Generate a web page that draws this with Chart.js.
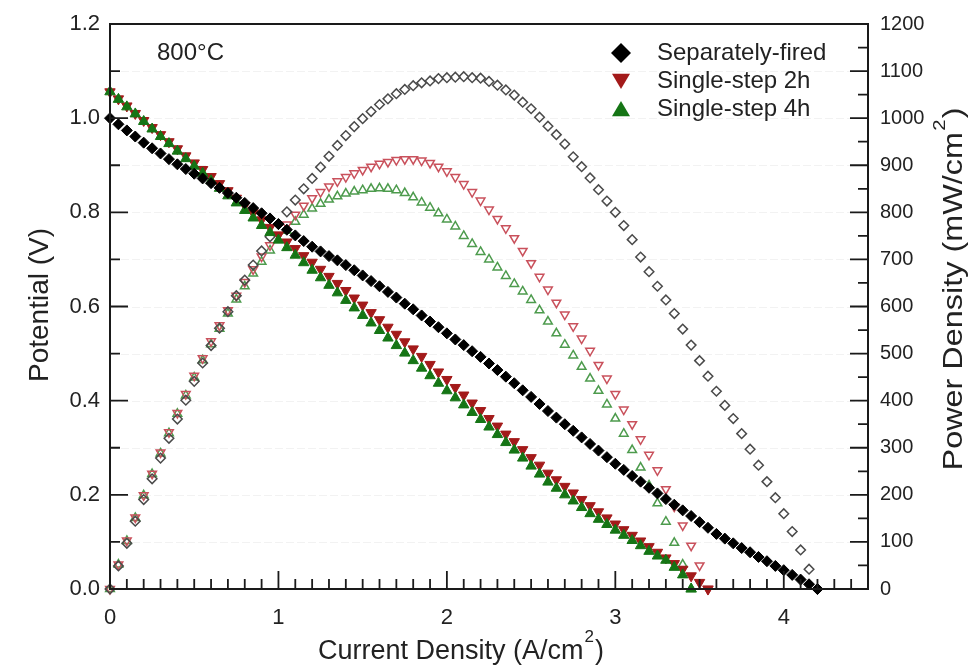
<!DOCTYPE html>
<html>
<head>
<meta charset="utf-8">
<title>800°C I-V and power density</title>
<script src="https://cdn.jsdelivr.net/npm/chart.js@4.4.1/dist/chart.umd.min.js"></script>
<style>
  html, body { margin: 0; padding: 0; background: #fff; }
  #wrap { width: 977px; height: 669px; position: relative; }
</style>
</head>
<body>
<div id="wrap"><canvas id="ivChart"></canvas></div>
<script>
// current density (A/cm2), each series uses as many points as it has values
const current = [
  0, 0.05, 0.1, 0.15, 0.2, 0.25, 0.3, 0.35, 0.4, 0.45,
  0.5, 0.55, 0.6, 0.65, 0.7, 0.75, 0.8, 0.85, 0.9, 0.95,
  1, 1.05, 1.1, 1.15, 1.2, 1.25, 1.3, 1.35, 1.4, 1.45,
  1.5, 1.55, 1.6, 1.65, 1.7, 1.75, 1.8, 1.85, 1.9, 1.95,
  2, 2.05, 2.1, 2.15, 2.2, 2.25, 2.3, 2.35, 2.4, 2.45,
  2.5, 2.55, 2.6, 2.65, 2.7, 2.75, 2.8, 2.85, 2.9, 2.95,
  3, 3.05, 3.1, 3.15, 3.2, 3.25, 3.3, 3.35, 3.4, 3.45,
  3.5, 3.55, 3.6, 3.65, 3.7, 3.75, 3.8, 3.85, 3.9, 3.95,
  4, 4.05, 4.1, 4.15, 4.2
];

// potential (V)
const vSeparate = [
  1.000, 0.987, 0.974, 0.961, 0.948, 0.936, 0.925, 0.913, 0.902, 0.892,
  0.882, 0.872, 0.862, 0.852, 0.841, 0.831, 0.820, 0.809, 0.798, 0.787,
  0.775, 0.763, 0.751, 0.739, 0.727, 0.717, 0.707, 0.698, 0.688, 0.677,
  0.666, 0.654, 0.643, 0.631, 0.619, 0.606, 0.594, 0.581, 0.568, 0.556,
  0.543, 0.530, 0.518, 0.505, 0.493, 0.479, 0.465, 0.451, 0.437, 0.422,
  0.408, 0.393, 0.378, 0.364, 0.350, 0.336, 0.322, 0.308, 0.294, 0.280,
  0.266, 0.253, 0.240, 0.228, 0.215, 0.203, 0.191, 0.179, 0.167, 0.155,
  0.142, 0.130, 0.117, 0.107, 0.097, 0.087, 0.078, 0.068, 0.059, 0.049,
  0.040, 0.030, 0.020, 0.010, 0.000
];
const vStep2h = [
  1.056, 1.041, 1.026, 1.010, 0.995, 0.980, 0.965, 0.950, 0.935, 0.920,
  0.905, 0.891, 0.876, 0.861, 0.846, 0.830, 0.815, 0.799, 0.784, 0.768,
  0.752, 0.737, 0.723, 0.708, 0.694, 0.679, 0.664, 0.649, 0.634, 0.618,
  0.603, 0.587, 0.572, 0.556, 0.541, 0.525, 0.510, 0.494, 0.477, 0.461,
  0.445, 0.428, 0.412, 0.395, 0.379, 0.362, 0.346, 0.329, 0.313, 0.296,
  0.279, 0.263, 0.246, 0.232, 0.218, 0.204, 0.190, 0.177, 0.164, 0.151,
  0.138, 0.126, 0.114, 0.102, 0.090, 0.078, 0.066, 0.054, 0.042, 0.028,
  0.014, 0.000
];
const vStep4h = [
  1.056, 1.040, 1.024, 1.009, 0.993, 0.977, 0.961, 0.946, 0.930, 0.914,
  0.898, 0.883, 0.867, 0.851, 0.835, 0.820, 0.804, 0.788, 0.772, 0.757,
  0.741, 0.725, 0.709, 0.693, 0.677, 0.661, 0.645, 0.629, 0.613, 0.597,
  0.581, 0.565, 0.549, 0.533, 0.517, 0.501, 0.485, 0.469, 0.453, 0.437,
  0.421, 0.406, 0.391, 0.375, 0.360, 0.344, 0.328, 0.311, 0.295, 0.278,
  0.261, 0.244, 0.227, 0.214, 0.200, 0.187, 0.173, 0.160, 0.148, 0.137,
  0.125, 0.114, 0.103, 0.092, 0.080, 0.070, 0.061, 0.046, 0.030, 0.000
];

// power density (mW/cm2)
const pSeparate = [
  0, 49, 97, 144, 190, 234, 278, 320, 361, 401,
  441, 480, 517, 554, 589, 623, 656, 688, 718, 748,
  775, 801, 826, 850, 872, 896, 919, 942, 963, 982,
  999, 1014, 1029, 1041, 1052, 1061, 1069, 1075, 1079, 1084,
  1086, 1087, 1088, 1086, 1085, 1078, 1070, 1060, 1049, 1034,
  1020, 1002, 983, 965, 945, 918, 897, 873, 848, 824,
  800, 772, 742, 705, 674, 643, 614, 585, 552, 518,
  485, 452, 420, 390, 362, 330, 297, 263, 228, 194,
  160, 122, 83, 42, 0
];
const pStep2h = [
  0, 52, 103, 152, 199, 245, 290, 333, 374, 414,
  453, 490, 526, 560, 592, 623, 652, 679, 706, 730,
  752, 774, 795, 814, 830, 843, 855, 866, 875, 883,
  890, 897, 903, 907, 911, 913, 913, 910, 905, 897,
  887, 875, 860, 843, 825, 806, 786, 766, 745, 718,
  692, 663, 636, 608, 583, 558, 532, 506, 476, 447,
  414, 381, 350, 318, 285, 252, 212, 175, 135, 92,
  50, 0
];
const pStep4h = [
  0, 52, 102, 151, 199, 244, 288, 331, 372, 411,
  449, 486, 520, 553, 585, 615, 643, 670, 695, 719,
  741, 761, 780, 795, 808, 818, 827, 834, 840, 844,
  847, 850, 851, 850, 847, 841, 832, 821, 810, 798,
  785, 770, 750, 733, 716, 700, 683, 665, 648, 632,
  614, 592, 568, 543, 519, 496, 472, 447, 421, 392,
  362, 330, 295, 258, 220, 182, 143, 98, 52, 0
];

const seriesNames = ['Separately-fired', 'Single-step 2h', 'Single-step 4h'];
const xTicks = [0, 1, 2, 3, 4];
const yTicks = [0, 0.2, 0.4, 0.6, 0.8, 1.0, 1.2];
const y2Ticks = [0, 100, 200, 300, 400, 500, 600, 700, 800, 900, 1000, 1100, 1200];

const FONT = "'Liberation Sans', Arial, Helvetica, sans-serif";
Chart.defaults.font.family = FONT;
Chart.defaults.color = '#222';

const toPoints = (ys) => ys.map((y, i) => ({ x: current[i], y: y }));

function marker(ctx, style, x, y, r, fill) {
    ctx.beginPath();
    if (style === 'diamond') {
        ctx.moveTo(x, y - r); ctx.lineTo(x + r, y); ctx.lineTo(x, y + r); ctx.lineTo(x - r, y);
    } else if (style === 'down') {
        ctx.moveTo(x - r, y - r * 0.8); ctx.lineTo(x + r, y - r * 0.8); ctx.lineTo(x, y + r * 0.9);
    } else {
        ctx.moveTo(x - r, y + r * 0.8); ctx.lineTo(x + r, y + r * 0.8); ctx.lineTo(x, y - r * 0.9);
    }
    ctx.closePath();
    ctx.fillStyle = fill;
    ctx.fill();
}

// text with a raised "2", centred on (cx, cy); stretch widens it along the reading direction
function supTitle(ctx, base, sup, tail, cx, cy, size, stretch) {
    const k = stretch || 1;
    ctx.save();
    ctx.translate(cx, cy);
    ctx.scale(k, 1);
    ctx.font = size + 'px ' + FONT;
    const w1 = ctx.measureText(base).width;
    const w3 = ctx.measureText(tail).width;
    ctx.font = Math.round(size * 0.62) + 'px ' + FONT;
    const w2 = ctx.measureText(sup).width + 2;
    const x = -(w1 + w2 + w3) / 2;
    ctx.textAlign = 'left';
    ctx.textBaseline = 'middle';
    ctx.font = size + 'px ' + FONT;
    ctx.fillText(base, x, 0);
    ctx.font = Math.round(size * 0.62) + 'px ' + FONT;
    ctx.fillText(sup, x + w1 + 1, -size * 0.55);
    ctx.font = size + 'px ' + FONT;
    ctx.fillText(tail, x + w1 + w2, 0);
    ctx.restore();
}

const frameAndTicks = {
    id: 'frameAndTicks',
    beforeDatasetsDraw(chart) {
        const { ctx, chartArea: a, scales } = chart;
        ctx.save();
        ctx.strokeStyle = 'rgba(0,0,0,0.05)';
        ctx.lineWidth = 1;
        ctx.setLineDash([8, 3]);
        for (let v = 100; v < 1200; v += 100) {
            const py = Math.round(scales.y2.getPixelForValue(v)) + 0.5;
            ctx.beginPath(); ctx.moveTo(a.left, py); ctx.lineTo(a.right, py); ctx.stroke();
        }
        ctx.restore();
    },
    afterDatasetsDraw(chart) {
        const { ctx, chartArea: a, scales } = chart;
        const { x, y, y2 } = scales;
        ctx.save();
        ctx.strokeStyle = '#1a1a1a';
        ctx.lineWidth = 2;
        ctx.strokeRect(a.left, a.top, a.right - a.left, a.bottom - a.top);

        // inward ticks: bottom (major 1, minor 0.1)
        ctx.lineWidth = 1.8;
        ctx.beginPath();
        for (let i = 1; i < 45; i++) {
            const px = x.getPixelForValue(i / 10);
            const len = i % 10 === 0 ? 18 : 10;
            ctx.moveTo(px, a.bottom); ctx.lineTo(px, a.bottom - len);
        }
        // left (major 0.2, minor 0.1)
        for (let i = 1; i < 12; i++) {
            const py = y.getPixelForValue(i / 10);
            const len = i % 2 === 0 ? 18 : 10;
            ctx.moveTo(a.left, py); ctx.lineTo(a.left + len, py);
        }
        // right (major 100, minor 50)
        for (let i = 1; i < 24; i++) {
            const py = y2.getPixelForValue(i * 50);
            const len = i % 2 === 0 ? 18 : 10;
            ctx.moveTo(a.right, py); ctx.lineTo(a.right - len, py);
        }
        ctx.stroke();

        // axis titles
        ctx.fillStyle = '#222';
        supTitle(ctx, 'Current Density (A/cm', '2', ')', 461, 652, 27, 1);
        ctx.save();
        ctx.translate(40, 305);
        ctx.rotate(-Math.PI / 2);
        ctx.font = '28px ' + FONT;
        ctx.textAlign = 'center';
        ctx.textBaseline = 'middle';
        ctx.fillText('Potential (V)', 0, 0);
        ctx.restore();
        ctx.save();
        ctx.translate(955, 289);
        ctx.rotate(-Math.PI / 2);
        supTitle(ctx, 'Power Density (mW/cm', '2', ')', 0, 0, 27, 1.2);
        ctx.restore();

        // temperature label and legend
        ctx.font = '24px ' + FONT;
        ctx.textAlign = 'left';
        ctx.textBaseline = 'middle';
        ctx.fillText('800°C', 157, 53);
        const styles = [['diamond', '#000000'], ['down', '#a31a1a'], ['up', '#157515']];
        seriesNames.forEach((name, i) => {
            const ly = 53 + i * 28;
            marker(ctx, styles[i][0], 621, ly, styles[i][0] === 'diamond' ? 10 : 9, styles[i][1]);
            ctx.fillStyle = '#222';
            ctx.fillText(name, 657, ly);
        });
        ctx.restore();
    }
};

const ivStyle = (color, style, rot, r) => ({
    showLine: false, pointStyle: style, rotation: rot, pointRadius: r,
    backgroundColor: color, borderColor: color, borderWidth: 1, clip: false
});
const pStyle = (color, style, rot, r) => ({
    showLine: false, pointStyle: style, rotation: rot, pointRadius: r,
    backgroundColor: 'rgba(0,0,0,0)', borderColor: color, borderWidth: 1.5, clip: false
});

new Chart(document.getElementById('ivChart'), {
    type: 'scatter',
    data: {
        datasets: [
            { label: seriesNames[0], data: toPoints(vSeparate), yAxisID: 'y', ...ivStyle('#000000', 'rectRot', 0, 5.5) },
            { label: seriesNames[2], data: toPoints(vStep4h), yAxisID: 'y', ...ivStyle('#157515', 'triangle', 0, 6) },
            { label: seriesNames[1], data: toPoints(vStep2h), yAxisID: 'y', ...ivStyle('#a31a1a', 'triangle', 180, 6) },
            { label: seriesNames[0] + ' P', data: toPoints(pSeparate), yAxisID: 'y2', ...pStyle('#4a4a4a', 'rectRot', 0, 4.8) },
            { label: seriesNames[1] + ' P', data: toPoints(pStep2h), yAxisID: 'y2', ...pStyle('#c9515c', 'triangle', 180, 5) },
            { label: seriesNames[2] + ' P', data: toPoints(pStep4h), yAxisID: 'y2', ...pStyle('#4d9b4d', 'triangle', 0, 5) }
        ]
    },
    options: {
        responsive: true,
        maintainAspectRatio: false,
        animation: false,
        events: [],
        layout: { padding: { top: 22, left: 0, right: 0, bottom: 0 } },
        plugins: { legend: { display: false }, tooltip: { enabled: false } },
        scales: {
            x: {
                type: 'linear', min: 0, max: 4.5,
                afterBuildTicks: s => { s.ticks = xTicks.map(v => ({ value: v })); },
                afterFit: s => { s.height = 80; },
                grid: { display: false, drawTicks: false },
                border: { display: false },
                ticks: { padding: 16, font: { size: 22 }, color: '#222', callback: v => String(v) }
            },
            y: {
                type: 'linear', position: 'left', min: 0, max: 1.2,
                afterBuildTicks: s => { s.ticks = yTicks.map(v => ({ value: v })); },
                afterFit: s => { s.width = 110; },
                grid: { display: false, drawTicks: false },
                border: { display: false },
                ticks: { padding: 10, font: { size: 22 }, color: '#222', callback: v => v.toFixed(1) }
            },
            y2: {
                type: 'linear', position: 'right', min: 0, max: 1200,
                afterBuildTicks: s => { s.ticks = y2Ticks.map(v => ({ value: v })); },
                afterFit: s => { s.width = 109; },
                grid: { display: false, drawTicks: false },
                border: { display: false },
                ticks: { padding: 12, font: { size: 20 }, color: '#222', callback: v => String(v) }
            }
        }
    },
    plugins: [frameAndTicks]
});
</script>
</body>
</html>
